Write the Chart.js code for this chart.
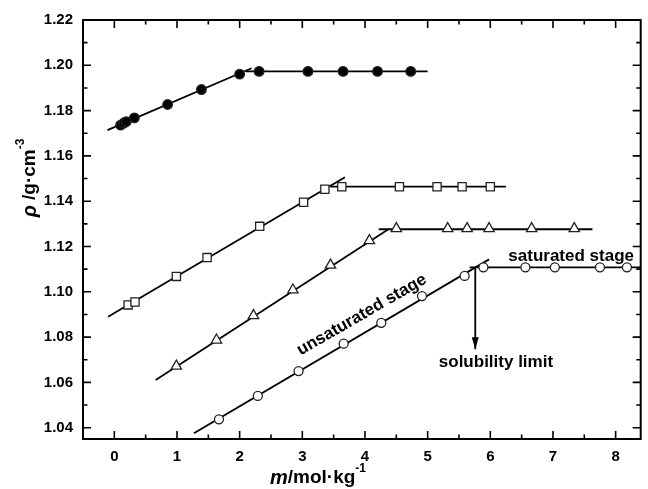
<!DOCTYPE html>
<html>

<head>
  <title>Density vs molality</title>
  <script src="https://cdn.jsdelivr.net/npm/chart.js"></script>
  <style>
    body { margin: 0; background: #fff; }
  </style>
</head>

<body>
  <canvas id="rhoChart" width="648" height="489"></canvas>

  <script>
    // filled circles
    const mA = [0.10, 0.15, 0.19, 0.32, 0.85, 1.39, 2.00, 2.31, 3.09, 3.65, 4.20, 4.73];
    const rhoA = [1.1736, 1.1745, 1.1751, 1.1768, 1.1827, 1.1893, 1.1961, 1.1973, 1.1973, 1.1973, 1.1973, 1.1973];
    // open squares
    const mB = [0.22, 0.33, 0.99, 1.48, 2.32, 3.02, 3.36, 3.63, 4.55, 5.15, 5.55, 6.00];
    const rhoB = [1.0942, 1.0955, 1.1068, 1.1151, 1.1289, 1.1395, 1.1453, 1.1464, 1.1464, 1.1464, 1.1464, 1.1464];
    // open triangles
    const mC = [0.99, 1.63, 2.22, 2.85, 3.45, 4.07, 4.50, 5.32, 5.63, 5.98, 6.66, 7.34];
    const rhoC = [1.0672, 1.0787, 1.0895, 1.1008, 1.1118, 1.1226, 1.1279, 1.1279, 1.1279, 1.1279, 1.1279, 1.1279];
    // open circles
    const mD = [1.67, 2.29, 2.94, 3.66, 4.26, 4.91, 5.59, 5.89, 6.56, 7.03, 7.75, 8.18];
    const rhoD = [1.0437, 1.0540, 1.0650, 1.0771, 1.0863, 1.0981, 1.1070, 1.1108, 1.1108, 1.1108, 1.1108, 1.1108];

    // fitted lines (unsaturated slope and saturated plateau)
    const fitA = [[-0.11, 1.1714], [2.19, 1.1987]];
    const flatA = [[2.10, 1.1973], [5.00, 1.1973]];
    const fitB = [[-0.10, 1.0890], [3.68, 1.1506]];
    const flatB = [[3.45, 1.1464], [6.25, 1.1464]];
    const fitC = [[0.66, 1.0611], [4.38, 1.1277]];
    const flatC = [[4.22, 1.1276], [7.63, 1.1276]];
    const fitD = [[1.27, 1.0375], [5.98, 1.1143]];
    const flatD = [[5.67, 1.1108], [8.40, 1.1108]];
    const arrowLine = [[5.76, 1.1108], [5.76, 1.0746]];

    const xTicks = [0, 1, 2, 3, 4, 5, 6, 7, 8];
    const yTicks = [1.04, 1.06, 1.08, 1.10, 1.12, 1.14, 1.16, 1.18, 1.20, 1.22];

    const notes = [
      { text: 'saturated stage', x: 7.29, y: 1.1158, angle: 0 },
      { text: 'solubility limit', x: 6.09, y: 1.0687, angle: 0 },
      { text: 'unsaturated stage', x: 3.95, y: 1.0898, angle: -30 },
    ];

    const FONT = "'Liberation Sans', Arial, sans-serif";

    function pts(xs, ys) {
      return xs.map((x, i) => ({ x: x, y: ys[i] }));
    }

    function seg(pairs) {
      return {
        data: pairs.map(p => ({ x: p[0], y: p[1] })),
        showLine: true,
        borderColor: '#000',
        borderWidth: 1.8,
        pointRadius: 0,
        fill: false,
      };
    }

    function markers(xs, ys, style, radius, fillColor) {
      return {
        data: pts(xs, ys),
        showLine: false,
        pointStyle: style,
        pointRadius: radius,
        pointBackgroundColor: fillColor,
        pointBorderColor: '#222',
        pointBorderWidth: 1.3,
      };
    }

    // frame, inward ticks, arrowhead, notes and axis titles
    const decorations = {
      id: 'decorations',
      afterDraw(chart) {
        const ctx = chart.ctx;
        const a = chart.chartArea;
        const xs = chart.scales.x;
        const ys = chart.scales.y;
        ctx.save();
        ctx.strokeStyle = '#000';
        ctx.lineWidth = 1.6;
        ctx.beginPath();
        const xMinor = [];
        for (let i = 0; i < xTicks.length - 1; i++) xMinor.push((xTicks[i] + xTicks[i + 1]) / 2);
        const yMinor = [];
        for (let i = 0; i < yTicks.length - 1; i++) yMinor.push((yTicks[i] + yTicks[i + 1]) / 2);
        xTicks.forEach(v => {
          const px = xs.getPixelForValue(v);
          ctx.moveTo(px, a.bottom); ctx.lineTo(px, a.bottom - 8);
          ctx.moveTo(px, a.top); ctx.lineTo(px, a.top + 8);
        });
        xMinor.forEach(v => {
          const px = xs.getPixelForValue(v);
          ctx.moveTo(px, a.bottom); ctx.lineTo(px, a.bottom - 4.5);
          ctx.moveTo(px, a.top); ctx.lineTo(px, a.top + 4.5);
        });
        yTicks.forEach(v => {
          const py = ys.getPixelForValue(v);
          ctx.moveTo(a.left, py); ctx.lineTo(a.left + 8, py);
          ctx.moveTo(a.right, py); ctx.lineTo(a.right - 8, py);
        });
        yMinor.forEach(v => {
          const py = ys.getPixelForValue(v);
          ctx.moveTo(a.left, py); ctx.lineTo(a.left + 4.5, py);
          ctx.moveTo(a.right, py); ctx.lineTo(a.right - 4.5, py);
        });
        ctx.stroke();
        ctx.lineWidth = 2;
        ctx.strokeRect(a.left, a.top, a.right - a.left, a.bottom - a.top);

        // arrowhead at end of arrow line
        const tipX = xs.getPixelForValue(arrowLine[1][0]);
        const tipY = ys.getPixelForValue(arrowLine[1][1]);
        ctx.fillStyle = '#000';
        ctx.beginPath();
        ctx.moveTo(tipX, tipY);
        ctx.lineTo(tipX - 3.5, tipY - 12);
        ctx.lineTo(tipX + 3.5, tipY - 12);
        ctx.closePath();
        ctx.fill();

        // text notes
        ctx.font = 'bold 17px ' + FONT;
        ctx.textAlign = 'center';
        ctx.textBaseline = 'middle';
        notes.forEach(n => {
          ctx.save();
          ctx.translate(xs.getPixelForValue(n.x), ys.getPixelForValue(n.y));
          ctx.rotate(n.angle * Math.PI / 180);
          ctx.fillText(n.text, 0, 0);
          ctx.restore();
        });

        // axis titles with italic symbol and superscript
        drawTitle(ctx, [
          { t: 'm', f: 'italic bold 20px ' + FONT },
          { t: '/mol\u00b7kg', f: 'bold 19px ' + FONT },
          { t: '-1', f: 'bold 12px ' + FONT, up: 9 },
        ], 318, 478, 0);
        drawTitle(ctx, [
          { t: '\u03c1', f: 'italic bold 20px ' + FONT },
          { t: ' /g\u00b7cm', f: 'bold 19px ' + FONT },
          { t: '-3', f: 'bold 12px ' + FONT, up: 9 },
        ], 30, 178, -90);
        ctx.restore();
      }
    };

    function drawTitle(ctx, parts, cx, cy, angle) {
      let total = 0;
      parts.forEach(p => { ctx.font = p.f; p.w = ctx.measureText(p.t).width; total += p.w; });
      ctx.save();
      ctx.translate(cx, cy);
      ctx.rotate(angle * Math.PI / 180);
      ctx.textAlign = 'left';
      ctx.textBaseline = 'middle';
      ctx.fillStyle = '#000';
      let x = -total / 2;
      parts.forEach(p => {
        ctx.font = p.f;
        ctx.fillText(p.t, x, -(p.up || 0));
        x += p.w;
      });
      ctx.restore();
    }

    const ctx = document.getElementById('rhoChart').getContext('2d');
    const rhoChart = new Chart(ctx, {
      type: 'scatter',
      data: {
        datasets: [
          markers(mA, rhoA, 'circle', 4.8, '#000'),
          markers(mB, rhoB, 'rect', 5.8, '#fff'),
          markers(mC, rhoC, 'triangle', 6, '#fff'),
          markers(mD, rhoD, 'circle', 4.5, '#fff'),
          seg(fitA), seg(flatA),
          seg(fitB), seg(flatB),
          seg(fitC), seg(flatC),
          seg(fitD), seg(flatD),
          seg(arrowLine),
        ],
      },
      options: {
        responsive: false,
        animation: false,
        layout: { padding: { top: 20, right: 2, left: 0, bottom: 0 } },
        plugins: {
          legend: { display: false },
          tooltip: { enabled: false },
        },
        scales: {
          x: {
            type: 'linear',
            min: -0.5,
            max: 8.4,
            grid: { display: false, drawTicks: false },
            border: { display: false },
            afterBuildTicks: s => { s.ticks = xTicks.map(v => ({ value: v })); },
            afterFit: s => { s.height = 50; },
            ticks: {
              padding: 9,
              color: '#000',
              font: { family: FONT, size: 15, weight: 'bold' },
              callback: v => String(v),
            },
          },
          y: {
            type: 'linear',
            min: 1.035,
            max: 1.22,
            grid: { display: false, drawTicks: false },
            border: { display: false },
            afterBuildTicks: s => { s.ticks = yTicks.map(v => ({ value: v })); },
            afterFit: s => { s.width = 83; },
            ticks: {
              padding: 10,
              color: '#000',
              font: { family: FONT, size: 15, weight: 'bold' },
              callback: v => v.toFixed(2),
            },
          },
        },
      },
      plugins: [decorations],
    });
  </script>
</body>

</html>
